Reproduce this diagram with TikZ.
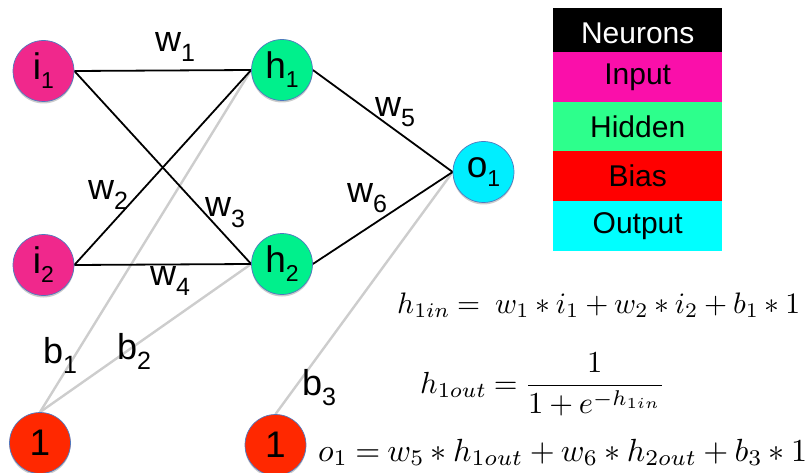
\documentclass[tikz,border=0pt]{standalone}
\usepackage{fontspec}
\setmainfont{Liberation Sans}
\usepackage{amsmath}
\usetikzlibrary{shadows,backgrounds}
\definecolor{inC}{RGB}{240,40,140}
\definecolor{hidC}{RGB}{0,240,140}
\definecolor{biasC}{RGB}{255,40,0}
\definecolor{outC}{RGB}{0,238,255}
\definecolor{lgIn}{RGB}{250,15,170}
\definecolor{lgHid}{RGB}{45,255,140}
\definecolor{lgBias}{RGB}{255,0,0}
\definecolor{lgOut}{RGB}{0,255,255}
\definecolor{rimC}{RGB}{80,120,190}
\definecolor{biasLine}{RGB}{205,205,205}
\newcommand{\nsub}[2]{#1\raisebox{-9pt}{\fontsize{23}{23}\selectfont #2}}
\newcommand{\wsub}[2]{#1\raisebox{-10pt}{\fontsize{25}{25}\selectfont #2}}
\newcommand{\eqsp}{\medmuskip=3.5mu plus 1mu\thickmuskip=4mu plus 2mu}
\begin{document}
\begin{tikzpicture}[x=1pt,y=-1pt,
  neuron/.style={circle, minimum size=61pt, inner sep=0pt, draw=rimC, line width=0.7pt,
    font=\fontsize{37}{37}\selectfont,
    drop shadow={shadow xshift=0pt, shadow yshift=-2pt, fill=black, opacity=0.2}},
  wire/.style={line width=1.8pt, black},
  bwire/.style={line width=2.4pt, biasLine},
  wlabel/.style={anchor=base west, inner sep=0pt, font=\fontsize{36}{36}\selectfont},
  legendrow/.style={minimum width=169pt, minimum height=49.6pt, inner sep=0pt, anchor=north west,
    font=\fontsize{30}{30}\selectfont},
  eqn/.style={anchor=base west, inner sep=0pt}]
\useasboundingbox (0,0) rectangle (811,473);

% neurons
\node[neuron, fill=inC] (i1) at (43.5,71) {\nsub{i}{1}};
\node[neuron, fill=inC] (i2) at (43.5,265) {\nsub{i}{2}};
\node[neuron, fill=hidC] (h1) at (282,70) {\nsub{h}{1}};
\node[neuron, fill=hidC] (h2) at (282,264) {\nsub{h}{2}};
\node[neuron, fill=outC] (o1) at (483.5,172) {\nsub{o}{1}};
\node[neuron, fill=biasC] (b1) at (40,443) {1};
\node[neuron, fill=biasC] (b2) at (275.5,445) {1};

% connectors
\begin{scope}[on background layer]
\draw[bwire] (b1.north) -- (h1.west);
\draw[bwire] (b1.north) -- (h2.west);
\draw[bwire] (b2.north) -- (o1.west);
\draw[wire] (i1.east) -- (h1.west);
\draw[wire] (i1.east) -- (h2.west);
\draw[wire] (i2.east) -- (h1.west);
\draw[wire] (i2.east) -- (h2.west);
\draw[wire] (h1.east) -- (o1.west);
\draw[wire] (h2.east) -- (o1.west);
\end{scope}

% weight labels
\node[wlabel] (lw1) at (155,52) {\wsub{w}{1}};
\node[wlabel] (lw2) at (88,200) {\wsub{w}{2}};
\node[wlabel] (lw3) at (205,217) {\wsub{w}{3}};
\node[wlabel] (lw4) at (150,285) {\wsub{w}{4}};
\node[wlabel] (lw5) at (375,117) {\wsub{w}{5}};
\node[wlabel] (lw6) at (347,203) {\wsub{w}{6}};
\node[wlabel] (lb1) at (43,363) {\wsub{b}{1}};
\node[wlabel] (lb2) at (117,359) {\wsub{b}{2}};
\node[wlabel] (lb3) at (302,395) {\wsub{b}{3}};

% legend
\node[legendrow, fill=black, text=white] (lgN) at (553,8) {Neurons};
\node[legendrow, fill=lgIn] (lgI) at (553,52) {Input};
\node[legendrow, fill=lgHid] (lgH) at (553,101.6) {Hidden};
\node[legendrow, fill=lgBias] (lgB) at (553,151.2) {Bias};
\node[legendrow, fill=lgOut] (lgO) at (553,200.8) {Output};

% equations
\node[eqn] (eq1) at (397,313) {\resizebox{403pt}{!}{$\eqsp h_{1in} = \ w_1 \ast i_1 + w_2 \ast i_2 + b_1 \ast 1$}};
\node[eqn] (eq2) at (420,393) {\resizebox{245pt}{!}{$\eqsp h_{1out} = \dfrac{1}{1+e^{-h_{1in}}}$}};
\node[eqn] (eq3) at (318,461) {\resizebox{489pt}{!}{$\eqsp o_1 = w_5 \ast h_{1out} + w_6 \ast h_{2out} + b_3 \ast 1$}};
\end{tikzpicture}
\end{document}
